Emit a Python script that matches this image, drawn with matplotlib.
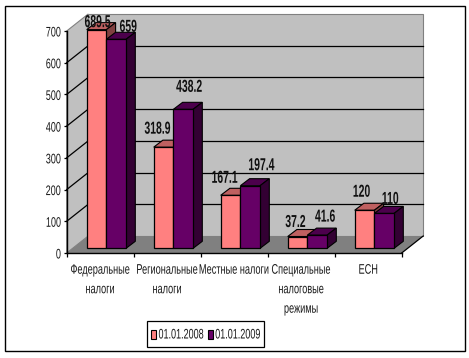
import matplotlib
matplotlib.use('Agg')
import matplotlib.pyplot as plt
import numpy as np
from matplotlib.patches import Polygon, Rectangle
from matplotlib.patheffects import AbstractPathEffect
from matplotlib.transforms import Affine2D

plt.rcParams['font.family'] = ['Liberation Sans', 'DejaVu Sans']

categories = ['Федеральные\nналоги', 'Региональные\nналоги', 'Местные налоги',
              'Специальные\nналоговые\nрежимы', 'ЕСН']
values_2008 = [689.5, 318.9, 167.1, 37.2, 120]
values_2009 = [659, 438.2, 197.4, 41.6, 110]
labels_2008 = ['689.5', '318.9', '167.1', '37.2', '120']
labels_2009 = ['659', '438.2', '197.4', '41.6', '110']
series_names = ['01.01.2008', '01.01.2009']
y_ticks = [0, 100, 200, 300, 400, 500, 600, 700]

# label nudges in px from the bar top centre, picked by eye
offs_2008 = [(1, 7), (-6, 18), (-6, 17), (-2, 14), (-3, 18)]
offs_2009 = [(12, 12), (6, 22), (11, 20), (8, 18), (6, 14)]

W, H = 469, 358


class Squeeze(AbstractPathEffect):
    """Narrow a text horizontally, no condensed font is installed."""

    def __init__(self, sx=0.65, anchor='center'):
        super().__init__()
        self.sx = sx
        self.anchor = anchor

    def draw_path(self, renderer, gc, tpath, affine, rgbFace=None):
        ext = tpath.get_extents()
        x0 = {'center': (ext.x0 + ext.x1) / 2, 'right': ext.x1, 'left': ext.x0}[self.anchor]
        tr = Affine2D().translate(-x0, 0).scale(self.sx, 1).translate(x0, 0) + affine
        renderer.draw_path(gc, tpath, tr, rgbFace)


fig = plt.figure(figsize=(W / 100, H / 100), dpi=100, facecolor='white')
ax = fig.add_axes([66.7 / W, (H - 253) / H, 335 / W, 222 / H])
ax.set_xlim(0, 5)
ax.set_ylim(0, 700)
ax.patch.set_visible(False)
for s in ax.spines.values():
    s.set_visible(False)

# one pixel in data units
PX = 5 / 335
PY = 700 / 222
wall_dx, wall_dy = 21.5 * PX, 17 * PY
bar_dx, bar_dy = 9.2 * PX, 7 * PY
base = 4.7 * PY
bar_w = 19.7 * PX
bar_start = 20 * PX

# walls and floor
ax.add_patch(Polygon([(wall_dx, wall_dy), (5 + wall_dx, wall_dy), (5 + wall_dx, 700 + wall_dy),
                      (wall_dx, 700 + wall_dy)], fc='#C0C0C0', ec='#808080', lw=0.8, clip_on=False, zorder=1))
ax.add_patch(Polygon([(0, 0), (wall_dx, wall_dy), (wall_dx, 700 + wall_dy), (0, 700)],
                     fc='#C0C0C0', ec='#808080', lw=0.8, clip_on=False, zorder=1))
ax.add_patch(Polygon([(0, 0), (5, 0), (5 + wall_dx, wall_dy), (wall_dx, wall_dy)],
                     fc='#808080', ec='none', clip_on=False, zorder=1))

# gridlines on both walls
for t in y_ticks:
    if 0 < t < 700:
        ax.plot([wall_dx, 5 + wall_dx], [t + wall_dy, t + wall_dy], color='black', lw=0.9,
                clip_on=False, zorder=2)
        ax.plot([0, wall_dx], [t, t + wall_dy], color='black', lw=0.9, clip_on=False, zorder=2)
ax.plot([5, 5 + wall_dx], [0, wall_dy], color='black', lw=0.9, clip_on=False, zorder=2)

ax.plot([0, 0], [0, 700], color='black', lw=1, clip_on=False, zorder=2)
ax.plot([0, 5], [0, 0], color='black', lw=1, clip_on=False, zorder=2)


def draw_series(x_left, vals, front, top, side, z):
    ax.bar(x_left, vals, bar_w, bottom=base, align='edge', color=front, edgecolor='black',
           linewidth=0.9, clip_on=False, zorder=z + 1)
    for x, v in zip(x_left, vals):
        y = base + v
        ax.add_patch(Polygon([(x, y), (x + bar_w, y), (x + bar_w + bar_dx, y + bar_dy), (x + bar_dx, y + bar_dy)],
                             fc=top, ec='black', lw=0.8, clip_on=False, zorder=z))
        ax.add_patch(Polygon([(x + bar_w, base), (x + bar_w + bar_dx, base + bar_dy),
                              (x + bar_w + bar_dx, y + bar_dy), (x + bar_w, y)],
                             fc=side, ec='black', lw=0.8, clip_on=False, zorder=z))


x_pos = np.arange(len(categories))
draw_series(x_pos + bar_start, values_2008, '#FF8080', '#BF6060', '#804040', 3)
draw_series(x_pos + bar_start + bar_w, values_2009, '#660066', '#4C004C', '#330033', 5)

# value labels
for i in x_pos:
    x1 = i + bar_start + bar_w / 2
    x2 = i + bar_start + bar_w * 1.5
    for x, v, lab, off in [(x1, values_2008[i], labels_2008[i], offs_2008[i]),
                           (x2, values_2009[i], labels_2009[i], offs_2009[i])]:
        ax.annotate(lab, (x, base + v), xytext=(off[0] * 0.72, off[1] * 0.72),
                    textcoords='offset points', ha='center', va='center', fontsize=12.5,
                    fontweight='bold', color='#111111', zorder=10, annotation_clip=False,
                    path_effects=[Squeeze(0.6)])

# axes ticks
ax.set_yticks(y_ticks)
ax.set_xticks(np.arange(6))
ax.set_xticklabels([])
ax.set_xticks(x_pos + 0.5, categories, minor=True)
ax.tick_params(axis='x', which='major', length=3, width=0.9, color='black')
ax.tick_params(axis='x', which='minor', length=0, pad=7, labelsize=10, colors='#1a1a1a')
ax.tick_params(axis='y', length=2, width=0.9, color='black', labelsize=10, pad=2, labelcolor='#1a1a1a')
for lab in ax.get_xminorticklabels():
    lab.set_linespacing(1.5)
    lab.set_va('top')
    lab.set_path_effects([Squeeze(0.66)])
for lab in ax.get_yticklabels():
    lab.set_path_effects([Squeeze(0.65, 'right')])

# outer frame
fig.add_artist(Rectangle((4.5 / W, (H - 351) / H), 460 / W, 345 / H, transform=fig.transFigure,
                         fill=False, ec='black', lw=1))

# legend by hand, its text is squeezed so a real legend box comes out too wide
fig.add_artist(Rectangle((147.3 / W, (H - 347.3) / H), 116.7 / W, 26 / H, transform=fig.transFigure,
                         fc='white', ec='black', lw=0.9))
for name, col, sq_x, txt_x in zip(series_names, ['#FF8080', '#660066'], [150.5, 207.5], [158.3, 215]):
    fig.add_artist(Rectangle((sq_x / W, (H - 339) / H), 5.5 / W, 9 / H, transform=fig.transFigure,
                             fc=col, ec='black', lw=0.8))
    fig.text(txt_x / W, (H - 334.5) / H, name, ha='left', va='center', fontsize=10, color='#1a1a1a',
             path_effects=[Squeeze(0.65, 'left')])

fig.savefig('out.png', dpi=100)
